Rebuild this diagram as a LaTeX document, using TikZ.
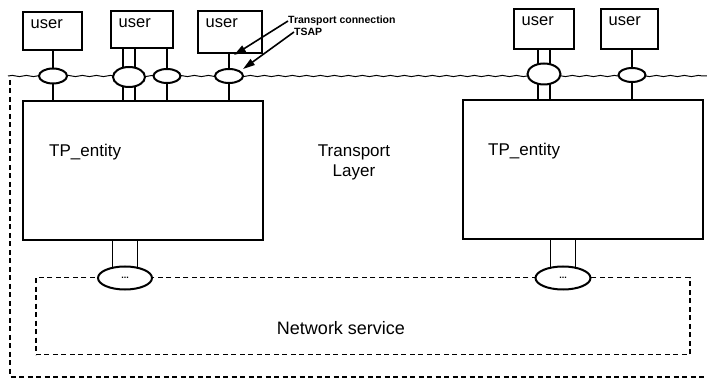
\documentclass[tikz,border=0pt]{standalone}
\usepackage{fontspec}
\setmainfont{Liberation Sans}
\usetikzlibrary{arrows.meta,shapes.geometric,decorations.pathmorphing,backgrounds}
\begin{document}
\begin{tikzpicture}[x=1pt,y=-1pt,
  box/.style={draw,line width=1.7pt,fill=white,inner sep=0pt,anchor=north west},
  ubox/.style={box,label={[font=\fontsize{16.5}{18}\selectfont,anchor=west,inner sep=0pt,xshift=8.5pt,yshift=-13.5pt]north west:user}},
  port/.style={draw,ellipse,line width=2pt,fill=white,inner sep=0pt},
  conn/.style={line width=1.6pt},
  dsh/.style={line width=1.5pt,dash pattern=on 5pt off 3.5pt},
  wavy/.style={line width=1pt,decorate,decoration={snake,amplitude=0.6pt,segment length=14pt}},
  big/.style={font=\fontsize{17}{20}\selectfont,inner sep=0pt},
  small/.style={font=\fontsize{10.5}{12}\selectfont\bfseries,inner sep=0pt,anchor=west},
  arr/.style={line width=1.6pt,-{Triangle[length=12pt,width=7pt]}}]
\useasboundingbox (0,0) rectangle (707,379);

% user boxes
\node[ubox,minimum width=59pt,minimum height=38pt] (u1) at (22,11) {};
\node[ubox,minimum width=62pt,minimum height=37pt] (u2) at (110,10) {};
\node[ubox,minimum width=64pt,minimum height=42pt] (u3) at (197,10) {};
\node[ubox,minimum width=60pt,minimum height=40pt] (u4) at (513,8) {};
\node[ubox,minimum width=57pt,minimum height=40pt] (u5) at (600,8) {};

% entities
\node[box,minimum width=240pt,minimum height=139pt] (t1) at (22,100) {};
\node[box,minimum width=240pt,minimum height=139pt] (t2) at (462,99) {};
\node[big,anchor=west] (t1l) at (49,152) {TP\_entity};
\node[big,anchor=west] (t2l) at (488,151) {TP\_entity};
\node[big,align=center] (tl) at (354,162) {Transport\\Layer};

% network service
\node[draw,dsh,anchor=north west,minimum width=654pt,minimum height=77pt,inner sep=0pt] (net) at (35,277) {};
\node[font=\fontsize{18}{20}\selectfont,inner sep=0pt] (netl) at (341,328) {Network service};

% outer dashed border
\coordinate (o1) at (10,80);
\coordinate (o2) at (10,377);
\coordinate (o3) at (707,377);
\draw[dsh] (o1) -- (o2) -- (o3);

% ports
\node[port,minimum width=28pt,minimum height=15pt] (e1) at (53,76) {};
\node[port,minimum width=32pt,minimum height=20pt] (e2) at (129,77) {};
\node[port,minimum width=27pt,minimum height=14pt] (e3) at (167,76) {};
\node[port,minimum width=28pt,minimum height=14pt] (e4) at (229,76) {};
\node[port,minimum width=33pt,minimum height=21pt] (e5) at (544,74) {};
\node[port,minimum width=27pt,minimum height=14pt] (e6) at (632,75) {};
\node[port,minimum width=54pt,minimum height=23pt,font=\bfseries\fontsize{9}{9}\selectfont] (b1) at (125,278) {...};
\node[port,minimum width=55pt,minimum height=23pt,font=\bfseries\fontsize{9}{9}\selectfont] (b2) at (563,278) {...};

% wavy layer line ends
\coordinate (wl) at (8,76);
\coordinate (wr) at (707,76);

% labels and arrows
\node[small] (tc) at (288,21) {Transport connection};
\node[small] (ts) at (294,32) {TSAP};
\coordinate (tctip) at (234,55);
\coordinate (tstip) at (243,69);
\draw[arr] (tc.west) -- (tctip);
\draw[arr] (ts.west) -- (tstip);

\begin{pgfonlayer}{background}
\draw[wavy] (wl) -- (wr);
\draw[conn] (u1.south -| e1) -- (t1.north -| e1);
\draw[conn] ([xshift=-6pt]e2.center |- u2.south) -- ([xshift=-6pt]e2.center |- t1.north);
\draw[conn] ([xshift=6pt]e2.center |- u2.south) -- ([xshift=6pt]e2.center |- t1.north);
\draw[conn] (u2.south -| e3) -- (t1.north -| e3);
\draw[conn] (u3.south -| e4) -- (t1.north -| e4);
\draw[conn] ([xshift=-6pt]e5.center |- u4.south) -- ([xshift=-6pt]e5.center |- t2.north);
\draw[conn] ([xshift=6pt]e5.center |- u4.south) -- ([xshift=6pt]e5.center |- t2.north);
\draw[conn] (u5.south -| e6) -- (t2.north -| e6);
\draw[conn] ([xshift=-12.5pt]b1.center |- t1.south) -- ([xshift=-12.5pt]b1.center);
\draw[conn] ([xshift=12.5pt]b1.center |- t1.south) -- ([xshift=12.5pt]b1.center);
\draw[conn] ([xshift=-12.5pt]b2.center |- t2.south) -- ([xshift=-12.5pt]b2.center);
\draw[conn] ([xshift=12.5pt]b2.center |- t2.south) -- ([xshift=12.5pt]b2.center);
\end{pgfonlayer}
\end{tikzpicture}
\end{document}
